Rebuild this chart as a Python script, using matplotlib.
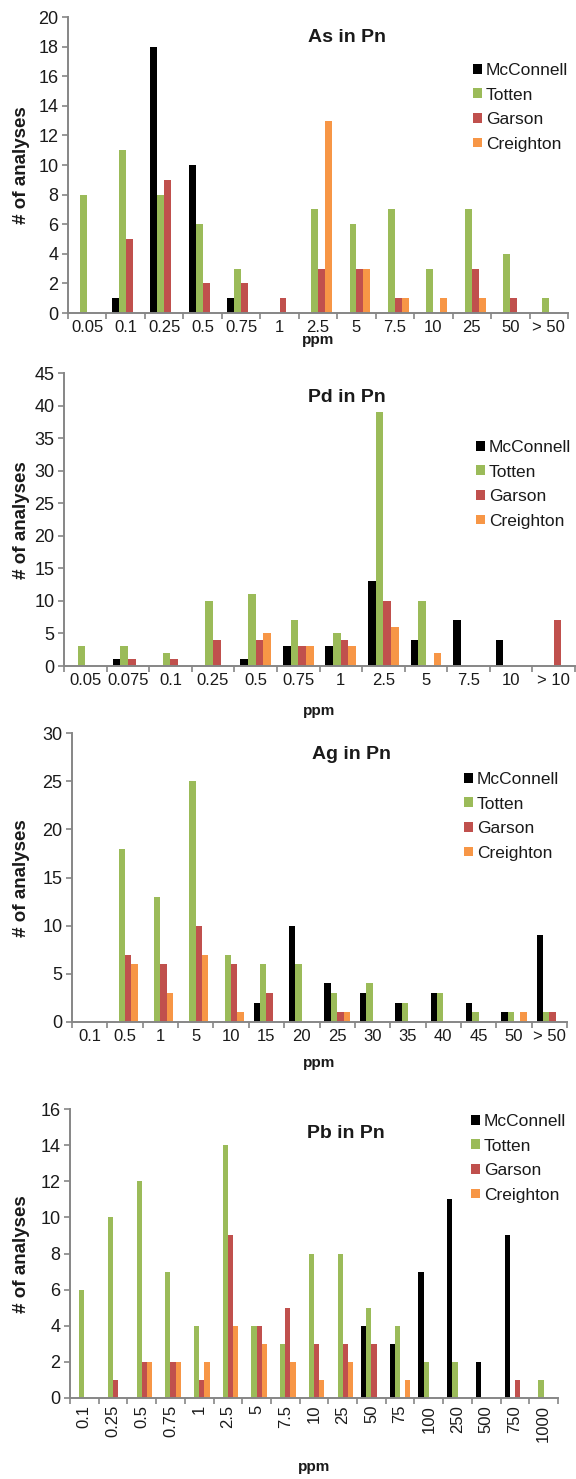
import matplotlib
matplotlib.use('Agg')
import matplotlib.pyplot as plt
import numpy as np
from matplotlib.patches import Patch

plt.rcParams['font.family'] = ['Liberation Sans', 'DejaVu Sans']

SERIES = ['McConnell', 'Totten', 'Garson', 'Creighton']
COLORS = ['#000000', '#9BBB59', '#C0504D', '#F79646']

# ---- As in Pn ----
as_categories = ['0.05', '0.1', '0.25', '0.5', '0.75', '1', '2.5', '5', '7.5', '10', '25', '50', '> 50']
as_mcconnell = [0, 1, 18, 10, 1, 0, 0, 0, 0, 0, 0, 0, 0]
as_totten = [8, 11, 8, 6, 3, 0, 7, 6, 7, 3, 7, 4, 1]
as_garson = [0, 5, 9, 2, 2, 1, 3, 3, 1, 0, 3, 1, 0]
as_creighton = [0, 0, 0, 0, 0, 0, 13, 3, 1, 1, 1, 0, 0]

# ---- Pd in Pn ----
pd_categories = ['0.05', '0.075', '0.1', '0.25', '0.5', '0.75', '1', '2.5', '5', '7.5', '10', '> 10']
pd_mcconnell = [0, 1, 0, 0, 1, 3, 3, 13, 4, 7, 4, 0]
pd_totten = [3, 3, 2, 10, 11, 7, 5, 39, 10, 0, 0, 0]
pd_garson = [0, 1, 1, 4, 4, 3, 4, 10, 0, 0, 0, 7]
pd_creighton = [0, 0, 0, 0, 5, 3, 3, 6, 2, 0, 0, 0]

# ---- Ag in Pn ----
ag_categories = ['0.1', '0.5', '1', '5', '10', '15', '20', '25', '30', '35', '40', '45', '50', '> 50']
ag_mcconnell = [0, 0, 0, 0, 0, 2, 10, 4, 3, 2, 3, 2, 1, 9]
ag_totten = [0, 18, 13, 25, 7, 6, 6, 3, 4, 2, 3, 1, 1, 1]
ag_garson = [0, 7, 6, 10, 6, 3, 0, 1, 0, 0, 0, 0, 0, 1]
ag_creighton = [0, 6, 3, 7, 1, 0, 0, 1, 0, 0, 0, 0, 1, 0]

# ---- Pb in Pn ----
pb_categories = ['0.1', '0.25', '0.5', '0.75', '1', '2.5', '5', '7.5', '10', '25', '50', '75',
                 '100', '250', '500', '750', '1000']
pb_mcconnell = [0, 0, 0, 0, 0, 0, 0, 0, 0, 0, 4, 3, 7, 11, 2, 9, 0]
pb_totten = [6, 10, 12, 7, 4, 14, 4, 3, 8, 8, 5, 4, 2, 2, 0, 0, 1]
pb_garson = [0, 1, 2, 2, 1, 9, 4, 5, 3, 3, 3, 0, 0, 0, 0, 1, 0]
pb_creighton = [0, 0, 2, 2, 2, 4, 3, 2, 1, 2, 0, 1, 0, 0, 0, 0, 0]

W, H = 576, 1479
fig = plt.figure(figsize=(W / 100, H / 100), dpi=100)
AXCOL = '#868686'
TXT = '#1a1a1a'


def fx(x):
    return x / W


def fy(y):
    return 1 - y / H


def draw_panel(box, cats, values, ymax, ystep, title, title_xy, legend_xy, xlabel_y, ylabel_y,
               rotate=False):
    left, top, right, bottom = box
    ax = fig.add_axes([fx(left), fy(bottom), (right - left) / W, (bottom - top) / H])
    n = len(cats)
    x = np.arange(n)
    bw = 0.18
    for i, (vals, col) in enumerate(zip(values, COLORS)):
        ax.bar(x + (i - 1.5) * bw, vals, width=bw, color=col, zorder=2, linewidth=0)
    ax.set_xlim(-0.5, n - 0.5)
    ax.set_ylim(0, ymax)
    ax.set_yticks(np.arange(0, ymax + 0.01, ystep))
    ax.set_xticks(x)
    ax.set_xticklabels(cats, rotation=90 if rotate else 0)
    ax.set_xticks(np.arange(-0.5, n, 1.0), minor=True)
    ax.tick_params(axis='x', which='major', length=0, pad=5, labelsize=12, labelcolor=TXT)
    ax.tick_params(axis='x', which='minor', length=4, width=1.2, color=AXCOL, direction='out')
    ax.tick_params(axis='y', which='major', length=4, width=1.2, color=AXCOL, direction='out',
                   labelsize=13, labelcolor=TXT, pad=3)
    for s in ['top', 'right']:
        ax.spines[s].set_visible(False)
    for s in ['left', 'bottom']:
        ax.spines[s].set_color(AXCOL)
        ax.spines[s].set_linewidth(1.4)
    fig.text(fx(title_xy[0]), fy(title_xy[1]), title, fontsize=14, fontweight='bold',
             ha='center', va='center', color=TXT)
    fig.text(fx((left + right) / 2), fy(xlabel_y), 'ppm', fontsize=11, fontweight='bold',
             ha='center', va='center', color=TXT)
    fig.text(fx(22), fy(ylabel_y), '# of analyses', fontsize=13.5, fontweight='bold',
             ha='center', va='center', rotation=90, color=TXT)
    handles = [Patch(facecolor=c, edgecolor='none') for c in COLORS]
    ax.legend(handles, SERIES, loc='upper left', bbox_to_anchor=(fx(legend_xy[0]), fy(legend_xy[1])),
              bbox_transform=fig.transFigure, frameon=False, fontsize=12.5, borderpad=0,
              borderaxespad=0, handlelength=0.5, handleheight=0.5, handletextpad=0.25,
              labelspacing=0.55, labelcolor=TXT)
    return ax


draw_panel((68, 17, 568, 313), as_categories,
           [as_mcconnell, as_totten, as_garson, as_creighton], 20, 2,
           'As in Pn', (347, 38), (473, 63), 340, 165)
draw_panel((64, 373, 575, 666), pd_categories,
           [pd_mcconnell, pd_totten, pd_garson, pd_creighton], 45, 5,
           'Pd in Pn', (347, 398), (476, 440), 711, 520)
draw_panel((72, 733, 567, 1022), ag_categories,
           [ag_mcconnell, ag_totten, ag_garson, ag_creighton], 30, 5,
           'Ag in Pn', (351, 755), (464, 772), 1063, 878)
draw_panel((70, 1109, 558, 1398), pb_categories,
           [pb_mcconnell, pb_totten, pb_garson, pb_creighton], 16, 2,
           'Pb in Pn', (346, 1133), (471, 1114), 1467, 1254, rotate=True)

fig.savefig('out.png', dpi=100, facecolor='white')
